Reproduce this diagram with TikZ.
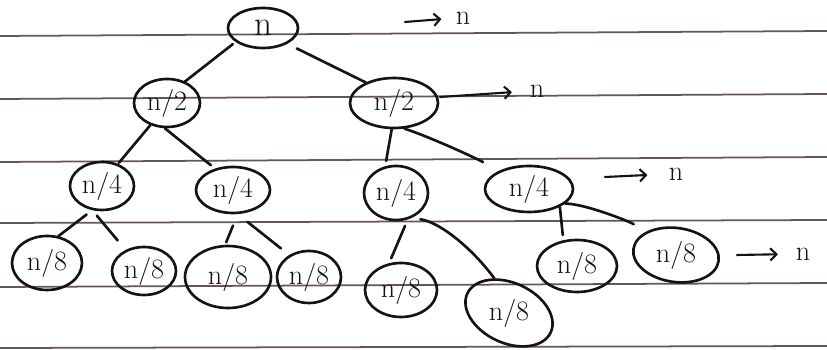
\documentclass[tikz,border=0pt]{standalone}
\usetikzlibrary{shapes.geometric,arrows.meta}
\definecolor{inkc}{RGB}{20,18,18}
\definecolor{rulec}{RGB}{105,85,80}
\begin{document}
\begin{tikzpicture}[x=0.02cm,y=-0.02cm,
  ink/.style={line width=1.5pt, draw=inkc, line cap=round},
  bub/.style={ellipse, draw=inkc, line width=1.5pt, inner sep=0pt, text=inkc,
              font=\fontsize{16}{16}\selectfont},
  bw/.style={minimum width=#1*0.02cm},
  bh/.style={minimum height=#1*0.02cm},
  rulel/.style={draw=rulec, line width=1pt},
  arr/.style={line width=1.2pt, draw=inkc, line cap=round, -{Straight Barb[length=3.5pt,width=7pt]}},
  lab/.style={inner sep=0pt, text=inkc, font=\fontsize{16}{16}\selectfont}]
\useasboundingbox (0,0) rectangle (827,350);
% ruled paper
\draw[rulel] (0,36) -- (827,31);
\draw[rulel] (0,99) -- (827,94);
\draw[rulel] (0,162) -- (827,157);
\draw[rulel] (0,223) -- (827,220);
\draw[rulel] (0,287) -- (827,283);
\draw[rulel] (0,348) -- (827,346);
% nodes
\node[bub, bw=70, bh=40, font=\fontsize{20}{20}\selectfont] (root) at (263,28) {n};
\node[bub, bw=66, bh=48] (a1) at (167,103) {n/2};
\node[bub, bw=88, bh=50] (a2) at (394,103) {n/2};
\node[bub, bw=64, bh=48] (b1) at (102,186) {n/4};
\node[bub, bw=74, bh=46] (b2) at (233,190) {n/4};
\node[bub, bw=64, bh=54] (b3) at (396,193) {n/4};
\node[bub, bw=88, bh=46] (b4) at (529,189) {n/4};
\node[bub, bw=70, bh=54] (c1) at (47,263) {n/8};
\node[bub, bw=64, bh=48] (c2) at (144,271) {n/8};
\node[bub, bw=86, bh=62] (c3) at (228,277) {n/8};
\node[bub, bw=64, bh=52] (c4) at (309,277) {n/8};
\node[bub, bw=72, bh=54] (c5) at (401,290) {n/8};
\node[bub, bw=92, bh=60, rotate=-25] (c6) at (509,313) {\rotatebox{25}{n/8}};
\node[bub, bw=80, bh=52] (c7) at (577,266) {n/8};
\node[bub, bw=86, bh=54, rotate=-8] (c8) at (676,255) {\rotatebox{8}{n/8}};
% level sums
\coordinate (s0) at (405,22);
\node[lab] (t0) at (463,18) {n};
\coordinate (s1) at (440,97);
\node[lab] (t1) at (537,91) {n};
\coordinate (s2) at (605,177);
\node[lab] (t2) at (676,174) {n};
\coordinate (s3) at (737,255);
\node[lab] (t3) at (803,254) {n};
\draw[arr, shorten >=8pt] (s0) -- (t0.west);
\draw[arr, shorten >=10pt] (s1) -- (t1.west);
\draw[arr, shorten >=12pt] (s2) -- (t2.west);
\draw[arr, shorten >=10pt] (s3) -- (t3.west);
% edges
\draw[ink, shorten <=2pt] (root.207) -- (a1.50);
\draw[ink, shorten <=6pt] (root.-33) -- (a2.144);
\draw[ink] (a1.233) -- ([xshift=2pt]b1.60);
\draw[ink, shorten >=3pt] (a1.265) -- (b2.130);
\draw[ink, shorten >=3pt] (a2.265) -- (b3.112);
\draw[ink, shorten >=10pt] (a2.-68) .. controls +(25,8) and +(-20,-12) .. (b4.150);
\draw[ink, shorten <=4pt] (b1.248) -- (c1.67);
\draw[ink, shorten <=4pt, shorten >=7pt] (b1.248) -- (c2.131);
\draw[ink, shorten <=7pt, shorten >=1.5pt] (b2.-79) -- (c3.95);
\draw[ink, shorten <=7pt, shorten >=6pt] (b2.-79) -- (c4.132);
\draw[ink, shorten <=4pt, shorten >=3pt] (b3.-66) -- (c5.114);
\draw[ink, shorten <=5pt] (b3.-58) .. controls +(28,4) and +(-22,-30) .. (c6.138);
\draw[ink] (b4.-30) -- ([yshift=3pt]c7.119);
\draw[ink, shorten >=8pt] (b4.-22) .. controls +(20,0) and +(-15,-10) .. (c8.151);
\end{tikzpicture}
\end{document}
